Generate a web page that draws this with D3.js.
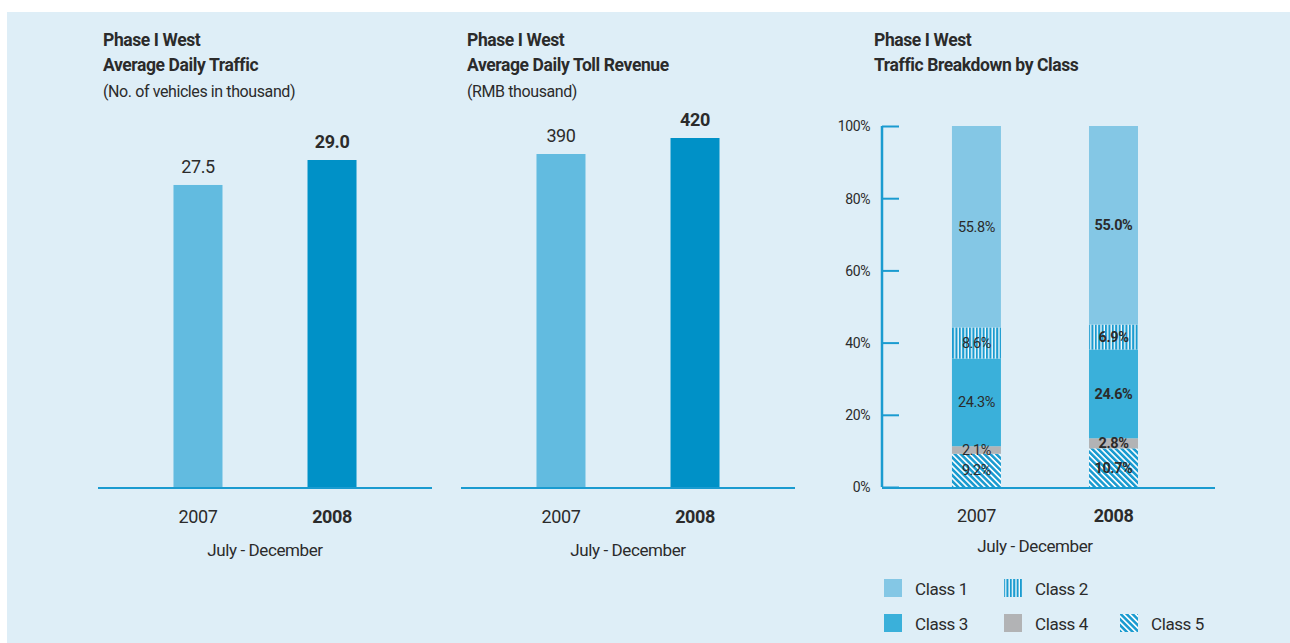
<!DOCTYPE html>
<html>
<head>
<meta charset="utf-8">
<script src="https://cdn.jsdelivr.net/npm/d3@7"></script>
<style>
  body { margin: 0; background: #ffffff; }
  svg text { font-family: "Roboto", "Liberation Sans", sans-serif; fill: #2b2b2b; letter-spacing: -0.4px; }
</style>
</head>
<body>
<svg id="root" width="1290" height="643"></svg>
<script>
// data
var years = ["2007", "2008"];
var trafficValues = [27.5, 29.0];
var trafficLabels = ["27.5", "29.0"];
var revenueValues = [390, 420];
var revenueLabels = ["390", "420"];
var classNames = ["Class 5", "Class 4", "Class 3", "Class 2", "Class 1"];
var share2007 = [9.2, 2.1, 24.3, 8.6, 55.8];
var share2008 = [10.7, 2.8, 24.6, 6.9, 55.0];
var percentTicks = [0, 20, 40, 60, 80, 100];

var svg = d3.select("#root");
var blue = "#1a9bd0";
var barW = 49;

// background panel
svg.append("rect").attr("x", 7).attr("y", 12).attr("width", 1283).attr("height", 631).attr("fill", "#deeef7");

// patterns
var defs = svg.append("defs");
var vp = defs.append("pattern").attr("id", "vstripe").attr("patternUnits", "userSpaceOnUse")
  .attr("width", 3.4).attr("height", 10);
vp.append("rect").attr("width", 3.4).attr("height", 10).attr("fill", "#ffffff");
vp.append("rect").attr("width", 2.1).attr("height", 10).attr("fill", blue);
var dp = defs.append("pattern").attr("id", "dstripe").attr("patternUnits", "userSpaceOnUse")
  .attr("width", 4.2).attr("height", 4.2).attr("patternTransform", "rotate(-45)");
dp.append("rect").attr("width", 4.2).attr("height", 4.2).attr("fill", "#ffffff");
dp.append("rect").attr("width", 2.6).attr("height", 4.2).attr("fill", blue);

function titles(x, lines) {
  svg.append("text").attr("x", x).attr("y", 46).attr("font-size", 17.5).attr("font-weight", "bold").text(lines[0]);
  svg.append("text").attr("x", x).attr("y", 71).attr("font-size", 17.5).attr("font-weight", "bold").text(lines[1]);
  if (lines[2]) svg.append("text").attr("x", x).attr("y", 97).attr("font-size", 16).text(lines[2]);
}

function xLabels(g, x, centre, baseY, subY) {
  years.forEach(function (yr, i) {
    g.append("text").attr("x", x(yr)).attr("y", baseY)
      .attr("text-anchor", "middle").attr("font-size", 18)
      .attr("font-weight", i === 1 ? "bold" : "normal").text(yr);
  });
  g.append("text").attr("x", centre).attr("y", subY)
    .attr("text-anchor", "middle").attr("font-size", 17).text("July - December");
}

function simpleBar(left, right, values, labels, domain, topY, titleX, titleLines) {
  titles(titleX, titleLines);
  var x = d3.scalePoint().domain(years).range([left, right]).padding(0.746);
  var y = d3.scaleLinear().domain(domain).range([488, topY]);
  var g = svg.append("g");
  g.selectAll("rect.bar").data(values).enter().append("rect")
    .attr("x", function (d, i) { return x(years[i]) - barW / 2; })
    .attr("width", barW)
    .attr("y", function (d) { return y(d); })
    .attr("height", function (d) { return 488 - y(d); })
    .attr("fill", function (d, i) { return i === 0 ? "#62bbe0" : "#0091c7"; });
  g.selectAll("text.val").data(values).enter().append("text")
    .attr("x", function (d, i) { return x(years[i]); })
    .attr("y", function (d) { return y(d) - 12; })
    .attr("text-anchor", "middle").attr("font-size", 18)
    .attr("font-weight", function (d, i) { return i === 1 ? "bold" : "normal"; })
    .text(function (d, i) { return labels[i]; });
  g.append("line").attr("x1", left).attr("x2", right).attr("y1", 488).attr("y2", 488)
    .attr("stroke", blue).attr("stroke-width", 2);
  xLabels(g, x, (left + right) / 2, 523, 556);
}

simpleBar(98, 432, trafficValues, trafficLabels, [9.3, 29.0], 160, 103,
  ["Phase I West", "Average Daily Traffic", "(No. of vehicles in thousand)"]);
simpleBar(461, 795, revenueValues, revenueLabels, [-236, 420], 138, 467,
  ["Phase I West", "Average Daily Toll Revenue", "(RMB thousand)"]);

// stacked chart
titles(874, ["Phase I West", "Traffic Breakdown by Class"]);
var fills = {"Class 1": "#84c7e5", "Class 2": "url(#vstripe)", "Class 3": "#3ab0da", "Class 4": "#b2b3b5", "Class 5": "url(#dstripe)"};
var x3 = d3.scalePoint().domain(years).range([882, 1215]).padding(0.715).align(0.482);
var y3 = d3.scaleLinear().domain([0, 100]).range([487, 126]);
var g3 = svg.append("g");

var rows = years.map(function (yr, i) {
  var r = {year: yr};
  var s = i === 0 ? share2007 : share2008;
  classNames.forEach(function (c, j) { r[c] = s[j]; });
  return r;
});
var stacked = d3.stack().keys(classNames)(rows);

stacked.forEach(function (layer) {
  layer.forEach(function (d, i) {
    var cx = x3(d.data.year);
    g3.append("rect").attr("x", cx - barW / 2).attr("width", barW)
      .attr("y", y3(d[1])).attr("height", y3(d[0]) - y3(d[1]))
      .attr("fill", fills[layer.key]);
  });
});
stacked.forEach(function (layer) {
  layer.forEach(function (d, i) {
    g3.append("text").attr("x", x3(d.data.year)).attr("y", (y3(d[0]) + y3(d[1])) / 2 + 5)
      .attr("text-anchor", "middle").attr("font-size", 14.5)
      .attr("font-weight", i === 1 ? "bold" : "normal")
      .attr("fill", i === 1 ? "#1e1e1e" : "#3a3a3a")
      .text(d3.format(".1f")(d[1] - d[0]) + "%");
  });
});

var yAxis = g3.append("g").attr("transform", "translate(882,0)")
  .call(d3.axisRight(y3).tickValues(percentTicks).tickSize(17).tickFormat(function (d) { return d + "%"; }));
yAxis.selectAll(".tick line").attr("stroke", blue).attr("stroke-width", 2);
yAxis.select(".domain").attr("d", "M0," + y3(100) + "V" + y3(0)).attr("stroke", blue).attr("stroke-width", 2.5).attr("fill", "none");
yAxis.selectAll(".tick text").attr("x", -12).attr("text-anchor", "end").attr("font-size", 14)
  .attr("fill", "#444").attr("dy", "0.35em");
g3.append("line").attr("x1", 882).attr("x2", 1215).attr("y1", 488).attr("y2", 488)
  .attr("stroke", blue).attr("stroke-width", 2);
xLabels(g3, x3, 1035, 522, 552);

// legend
var legend = [
  {name: "Class 1", x: 884, y: 579}, {name: "Class 2", x: 1004, y: 579},
  {name: "Class 3", x: 884, y: 614}, {name: "Class 4", x: 1004, y: 614}, {name: "Class 5", x: 1120, y: 614}
];
var lg = svg.append("g");
legend.forEach(function (l) {
  lg.append("rect").attr("x", l.x).attr("y", l.y).attr("width", 18).attr("height", 18).attr("fill", fills[l.name]);
  lg.append("text").attr("x", l.x + 31).attr("y", l.y + 16).attr("font-size", 17).text(l.name);
});
</script>
</body>
</html>
